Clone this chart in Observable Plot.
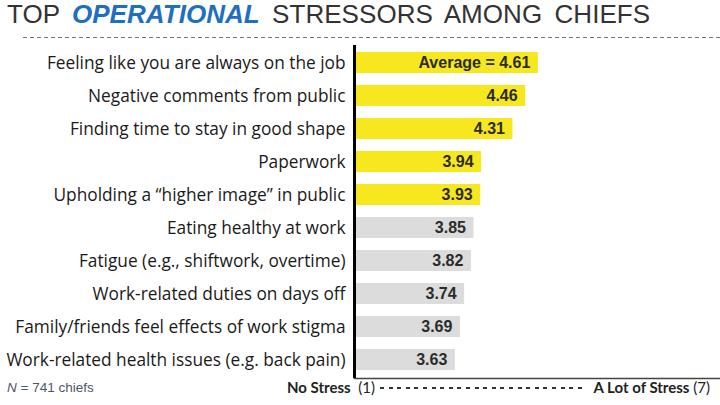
<!DOCTYPE html>
<html>
<head>
<meta charset="utf-8">
<script src="https://cdn.jsdelivr.net/npm/d3@7"></script>
<script src="https://cdn.jsdelivr.net/npm/@observablehq/plot@0.6"></script>
<style>
  html, body { margin: 0; padding: 0; background: #fff; }
  #wrap { position: relative; width: 720px; height: 405px; overflow: hidden; background: #fff; }
  #title { position: absolute; left: 7px; top: 1px; font-family: "Liberation Sans", Arial, sans-serif; font-size: 26px; line-height: 26px; color: #333; white-space: nowrap; word-spacing: 5px; letter-spacing: 0.05px; }
  #title b { color: #1f6fc1; font-style: italic; font-weight: bold; }
  #dash { position: absolute; left: 23px; right: 0; top: 37px; height: 1px; background: repeating-linear-gradient(to right, #777 0 4px, transparent 4px 7px); }
  #chart { position: absolute; left: 0; top: 40px; }
  #n { position: absolute; left: 7px; top: 380px; font-family: "Liberation Sans", Arial, sans-serif; font-size: 13.5px; color: #4b5868; white-space: nowrap; }
  #scale { position: absolute; left: 287px; right: 10px; top: 378px; display: flex; align-items: center; font-family: Lato, "Open Sans", sans-serif; font-size: 15px; color: #222; white-space: nowrap; }
  #scale .fill { flex: 1; height: 1.6px; margin: 2px 9px 0 5px; background: repeating-linear-gradient(to right, #333 0 4px, transparent 4px 8.6px); }
</style>
</head>
<body>
<div id="wrap">
  <div id="title">TOP <b>OPERATIONAL</b> STRESSORS AMONG CHIEFS</div>
  <div id="dash"></div>
  <div id="chart"></div>
  <div id="n"><i>N</i> = 741 chiefs</div>
  <div id="scale"><b>No Stress</b>&nbsp;&nbsp;(1)<span class="fill"></span><b>A Lot of Stress</b>&nbsp;(7)</div>
</div>
<script>
const stressors = [
  "Feeling like you are always on the job",
  "Negative comments from public",
  "Finding time to stay in good shape",
  "Paperwork",
  "Upholding a \u201chigher image\u201d in public",
  "Eating healthy at work",
  "Fatigue (e.g., shiftwork, overtime)",
  "Work-related duties on days off",
  "Family/friends feel effects of work stigma",
  "Work-related health issues (e.g. back pain)"
];
const scores = [4.61, 4.46, 4.31, 3.94, 3.93, 3.85, 3.82, 3.74, 3.69, 3.63];
const valueLabels = ["Average = 4.61", "4.46", "4.31", "3.94", "3.93", "3.85", "3.82", "3.74", "3.69", "3.63"];
const groups = ["top", "top", "top", "top", "top", "other", "other", "other", "other", "other"];
const groupNames = ["top", "other"];
const groupColors = ["#f6e71f", "#dcdcdc"];

const xMin = 2.44, xMax = 6.76;
const data = stressors.map((s, i) => ({stressor: s, score: scores[i], label: valueLabels[i], group: groups[i]}));

const chart = Plot.plot({
  width: 720,
  height: 340,
  marginLeft: 354,
  marginRight: 0,
  marginTop: 5,
  marginBottom: 2,
  style: {background: "transparent"},
  x: {domain: [xMin, xMax], axis: null},
  y: {domain: stressors, paddingInner: 0.36, paddingOuter: 0.18, axis: null},
  color: {domain: groupNames, range: groupColors},
  marks: [
    Plot.barX(data, {y: "stressor", x1: xMin, x2: "score", fill: "group"}),
    Plot.text(data, {y: "stressor", x: "score", text: "label", textAnchor: "end", dx: -8, fontWeight: "bold", fontSize: 16, fill: "#2b2b2b", fontFamily: "'Liberation Sans', Arial, sans-serif"}),
    Plot.axisY({tickSize: 0, tickPadding: 9, fontSize: 17.3, fontFamily: "'Open Sans', Lato, sans-serif", color: "#1a1a1a", label: null}),
    Plot.ruleX([xMin], {stroke: "#000", strokeWidth: 3}),
    Plot.frame({anchor: "bottom", stroke: "#444", strokeWidth: 1.5})
  ]
});
document.getElementById("chart").appendChild(chart);
</script>
</body>
</html>
